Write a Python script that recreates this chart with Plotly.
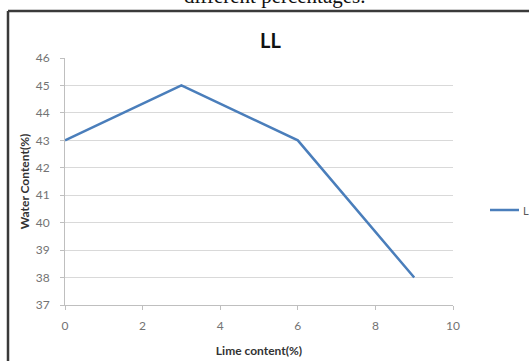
import plotly.graph_objects as go

# Liquid limit versus lime content
lime_content = [0, 3, 6, 9]
liquid_limit = [43, 45, 43, 38]
series_name = "LL"

x_ticks = [0, 2, 4, 6, 8, 10]
y_ticks = [37, 38, 39, 40, 41, 42, 43, 44, 45, 46]

W, H = 529, 361
L, R, T, B = 65, 76, 58, 56
pw, ph = W - L - R, H - T - B
LINE_COLOR = "#4a7ebb"
FONT = "Lato"


def px(x):
    return (x - L) / pw


def py(y):
    return (H - B - y) / ph


fig = go.Figure()
fig.add_trace(go.Scatter(
    x=lime_content, y=liquid_limit, mode="lines", name=series_name,
    line=dict(color=LINE_COLOR, width=2.5), showlegend=False,
))

# legend key drawn beside the plot area without shrinking it
legend_shapes = [
    dict(type="line", xref="paper", yref="paper", x0=px(490), x1=px(519),
         y0=py(210), y1=py(210), line=dict(color=LINE_COLOR, width=2.5)),
]
legend_notes = [
    dict(text=series_name, xref="paper", yref="paper", x=px(521), y=py(210),
         xanchor="left", yanchor="middle", showarrow=False,
         font=dict(size=11, color="#595959", family=FONT)),
]

fig.update_layout(
    width=W, height=H,
    margin=dict(l=L, r=R, t=T, b=B, autoexpand=False),
    paper_bgcolor="white", plot_bgcolor="white",
    font=dict(family=FONT, color="#595959"),
    showlegend=False,
    xaxis=dict(range=[0, 10], tickvals=x_ticks, showgrid=False,
               showline=True, linecolor="#bfbfbf", linewidth=1,
               ticks="outside", ticklen=4, tickcolor="#bfbfbf",
               ticklabelstandoff=6,
               tickfont=dict(size=12, color="#737373", family=FONT), zeroline=False,
               title=dict(text="<b>Lime content(%)</b>", standoff=14,
                          font=dict(size=12, color="#333333", family=FONT))),
    yaxis=dict(range=[37, 46], tickvals=y_ticks, showgrid=True,
               gridcolor="#d9d9d9", gridwidth=1,
               showline=True, linecolor="#bfbfbf", linewidth=1,
               ticks="outside", ticklen=4, tickcolor="#bfbfbf",
               ticklabelstandoff=8,
               tickfont=dict(size=12, color="#737373", family=FONT), zeroline=False,
               title=dict(text="<b>Water Content(%)</b>", standoff=3,
                          font=dict(size=12, color="#333333", family=FONT))),
    shapes=[
        dict(type="line", xref="paper", yref="paper", x0=px(8), x1=px(535),
             y0=py(11), y1=py(11), line=dict(color="#3a3a3a", width=2.5)),
        dict(type="line", xref="paper", yref="paper", x0=px(8), x1=px(8),
             y0=py(11), y1=py(365), line=dict(color="#3a3a3a", width=2.5)),
    ] + legend_shapes,
    annotations=[
        dict(text="<b>LL</b>", xref="paper", yref="paper", x=px(270), y=py(40),
             xanchor="center", yanchor="middle", showarrow=False,
             font=dict(size=20, color="#111111", family=FONT)),
        dict(text="different percentages.", xref="paper", yref="paper",
             x=px(275), y=py(10), xanchor="center", yanchor="bottom", showarrow=False,
             font=dict(size=21, color="#111111", family="Liberation Serif")),
    ] + legend_notes,
)

fig.write_html("out.html")
